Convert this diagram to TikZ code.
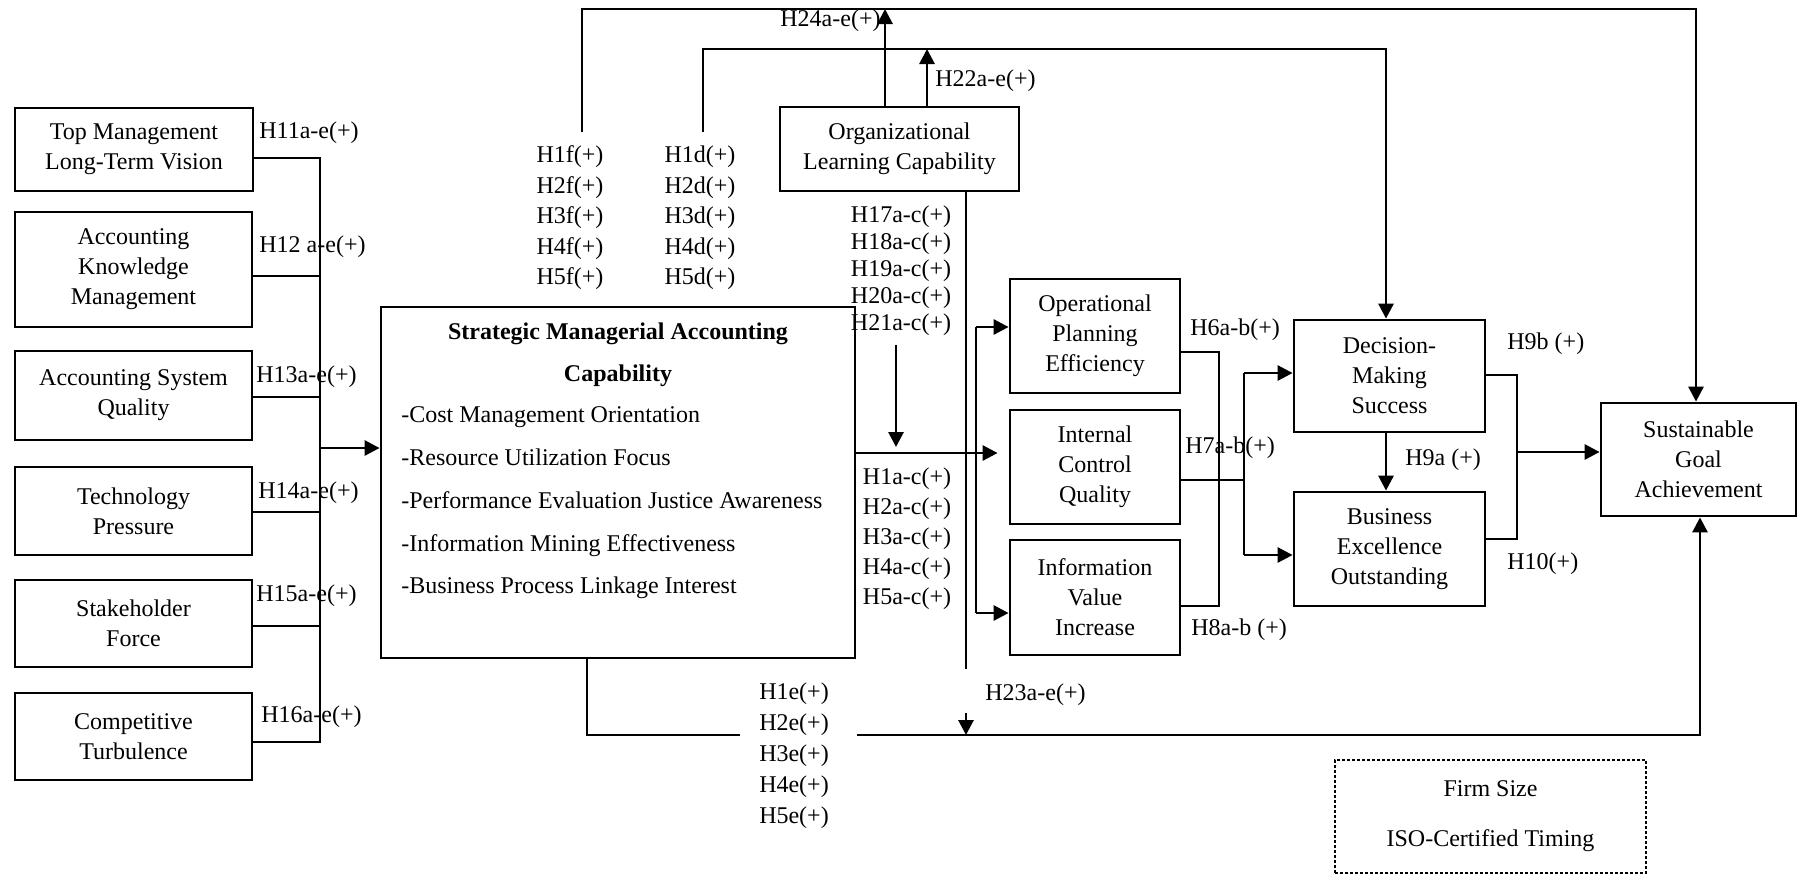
\documentclass[tikz,border=0pt]{standalone}
\usepackage{fontspec}
\setmainfont{Liberation Serif}
\usetikzlibrary{arrows.meta}
\begin{document}
\begin{tikzpicture}[x=0.5pt,y=-0.5pt,
  line width=1.4pt,
  box/.style={draw, line width=1.4pt, align=center, inner sep=2pt,
    font=\fontsize{12}{15}\selectfont},
  lbl/.style={inner sep=0pt, font=\fontsize{12}{15}\selectfont},
  stack/.style={inner sep=0pt, align=center},
  arr/.style={-{Triangle[length=7.5pt,width=7.5pt]}},
]
\useasboundingbox (0,0) rectangle (1804,874);

% ---------- antecedent boxes ----------
\node[box, minimum width=119pt, minimum height=41.5pt] (tm)  at (134,149.5) {Top Management\\Long-Term Vision};
\node[box, minimum width=118.5pt, minimum height=57.5pt] (akm) at (133.5,269.5) {Accounting\\Knowledge\\Management};
\node[box, minimum width=118.5pt, minimum height=44.5pt] (asq) at (133.5,395.5) {Accounting System\\Quality};
\node[box, minimum width=118.5pt, minimum height=44pt] (tp)  at (133.5,511) {Technology\\Pressure};
\node[box, minimum width=118.5pt, minimum height=43.5pt] (sf)  at (133.5,623.5) {Stakeholder\\Force};
\node[box, minimum width=118.5pt, minimum height=43.5pt] (ct)  at (133.5,736.5) {Competitive\\Turbulence};

% ---------- central construct ----------
\node[draw, line width=1.4pt, minimum width=237pt, minimum height=175.5pt] (smac) at (618,482.5) {};
\node[stack, font=\bfseries\fontsize{12}{21}\selectfont] (smt) at (618,355) {Strategic Managerial Accounting\\Capability};
\node[inner sep=0pt, align=left, anchor=west, font=\fontsize{12}{21.4}\selectfont] (smi) at (400,503)
  {-Cost Management Orientation\\-Resource Utilization Focus\\-Performance Evaluation Justice Awareness\\-Information Mining Effectiveness\\-Business Process Linkage Interest};

% ---------- moderator / outcomes ----------
\node[box, minimum width=119.5pt, minimum height=42pt] (olc) at (899.5,149) {Organizational\\Learning Capability};
\node[box, minimum width=85pt, minimum height=57pt] (ope) at (1095,336) {Operational\\Planning\\Efficiency};
\node[box, minimum width=85pt, minimum height=57pt] (icq) at (1095,467) {Internal\\Control\\Quality};
\node[box, minimum width=85pt, minimum height=57.5pt] (ivi) at (1095,597.5) {Information\\Value\\Increase};
\node[box, minimum width=95.5pt, minimum height=56pt] (dms) at (1389.5,376) {Decision-\\Making\\Success};
\node[box, minimum width=95.5pt, minimum height=57pt] (beo) at (1389.5,549) {Business\\Excellence\\Outstanding};
\node[box, minimum width=97.5pt, minimum height=56.5pt] (sga) at (1698.5,459.5) {Sustainable\\Goal\\Achievement};
\node[draw, line width=1.2pt, dash pattern=on 1.6pt off 0.9pt, minimum width=155.5pt, minimum height=56.5pt,
  align=center, font=\fontsize{12}{25}\selectfont] (fs) at (1490.5,816.5) {Firm Size\\ISO-Certified Timing};

% ---------- left bus into the central construct ----------
\coordinate (b1) at (320,158);
\coordinate (b2) at (320,276);
\coordinate (b3) at (320,397);
\coordinate (b4) at (320,512);
\coordinate (b5) at (320,626);
\coordinate (b6) at (320,742);
\draw (b1 -| tm.east) -- (b1) -- (b6) -- (b6 -| ct.east);
\draw (b2 -| akm.east) -- (b2);
\draw (b3 -| asq.east) -- (b3);
\draw (b4 -| tp.east) -- (b4);
\draw (b5 -| sf.east) -- (b5);
\coordinate (bin) at (320,448);
\draw[arr] (bin) -- (bin -| smac.west);

\node[lbl, anchor=west] (l11) at (258,133) {H11a-e(+)};
\node[lbl, anchor=west] (l12) at (258,247) {H12 a-e(+)};
\node[lbl, anchor=west] (l13) at (255,377) {H13a-e(+)};
\node[lbl, anchor=west] (l14) at (257,493) {H14a-e(+)};
\node[lbl, anchor=west] (l15) at (255,596) {H15a-e(+)};
\node[lbl, anchor=west] (l16) at (260,717) {H16a-e(+)};

% ---------- top loops ----------
\coordinate (tf) at (582,132);
\coordinate (tl) at (582,9);
\coordinate (tr) at (1696,9);
\draw[arr] (tf) -- (tl) -- (tr) -- (tr |- sga.north);
\coordinate (df) at (703,132);
\coordinate (dl) at (703,49);
\coordinate (dr) at (1386,49);
\draw[arr] (df) -- (dl) -- (dr) -- (dr |- dms.north);
\coordinate (o24) at (885,0);
\draw[arr] (o24 |- olc.north) -- (o24 |- tl);
\coordinate (o22) at (927,0);
\draw[arr] (o22 |- olc.north) -- (o22 |- dl);

\node[lbl, anchor=west] (l24) at (779,21) {H24a-e(+)};
\node[lbl, anchor=west] (l22) at (934,81) {H22a-e(+)};
\node[stack, font=\fontsize{12}{15.25}\selectfont] (lf) at (570,218) {H1f(+)\\H2f(+)\\H3f(+)\\H4f(+)\\H5f(+)};
\node[stack, font=\fontsize{12}{15.25}\selectfont] (ld) at (700,218) {H1d(+)\\H2d(+)\\H3d(+)\\H4d(+)\\H5d(+)};
\node[stack, font=\fontsize{12}{13.5}\selectfont] (lm) at (901,270.5) {H17a-c(+)\\H18a-c(+)\\H19a-c(+)\\H20a-c(+)\\H21a-c(+)};
\node[stack, font=\fontsize{12}{15}\selectfont] (lc) at (907,539) {H1a-c(+)\\H2a-c(+)\\H3a-c(+)\\H4a-c(+)\\H5a-c(+)};

% ---------- central construct to mediators ----------
\coordinate (da1) at (896,345);
\coordinate (da2) at (896,447);
\draw[arr] (da1) -- (da2);
\coordinate (sm) at (0,453);
\draw[arr, shorten >=5.5pt] (sm -| smac.east) -- (sm -| icq.west);
\coordinate (br1) at (976,327);
\coordinate (br2) at (976,613);
\draw (br1) -- (br2);
\draw[arr] (br1) -- (br1 -| ope.west);
\draw[arr] (br2) -- (br2 -| ivi.west);

% ---------- mediators to decision outcomes ----------
\coordinate (m1) at (1219,352);
\coordinate (m2) at (1219,606);
\draw (m1 -| ope.east) -- (m1) -- (m2) -- (m2 -| ivi.east);
\coordinate (m3) at (1244,480);
\draw (m3 -| icq.east) -- (m3);
\coordinate (n1) at (1244,373);
\coordinate (n2) at (1244,555);
\draw (n1) -- (n2);
\draw[arr] (n1) -- (n1 -| dms.west);
\draw[arr] (n2) -- (n2 -| beo.west);
\node[lbl, anchor=west] (l6) at (1189,330) {H6a-b(+)};
\node[lbl, anchor=west] (l7) at (1184,448) {H7a-b(+)};
\node[lbl, anchor=west] (l8) at (1190,630) {H8a-b (+)};

% ---------- decision outcomes to sustainability ----------
\draw[arr] (dr |- dms.south) -- (dr |- beo.north);
\coordinate (r1) at (1517,375);
\coordinate (r2) at (1517,539);
\draw (r1 -| dms.east) -- (r1) -- (r2) -- (r2 -| beo.east);
\coordinate (r3) at (1517,452);
\draw[arr] (r3) -- (r3 -| sga.west);
\node[lbl, anchor=west] (l9a) at (1404,460) {H9a (+)};
\node[lbl, anchor=west] (l9b) at (1506,344) {H9b (+)};
\node[lbl, anchor=west] (l10) at (1506,564) {H10(+)};

% ---------- bottom path ----------
\coordinate (bl) at (587,735);
\coordinate (bg1) at (740,735);
\coordinate (bg2) at (857,735);
\coordinate (brt) at (1700,735);
\draw (bl |- smac.south) -- (bl) -- (bg1);
\draw[arr] (bg2) -- (brt) -- (brt |- sga.south);
\coordinate (ol1) at (966,669);
\coordinate (ol2) at (966,713);
\draw (ol1 |- olc.south) -- (ol1);
\draw[arr] (ol2) -- (ol2 |- bl);
\node[lbl, anchor=west] (l23) at (984,695) {H23a-e(+)};
\node[stack, font=\fontsize{12}{15.5}\selectfont] (le) at (794,756) {H1e(+)\\H2e(+)\\H3e(+)\\H4e(+)\\H5e(+)};
\end{tikzpicture}
\end{document}
